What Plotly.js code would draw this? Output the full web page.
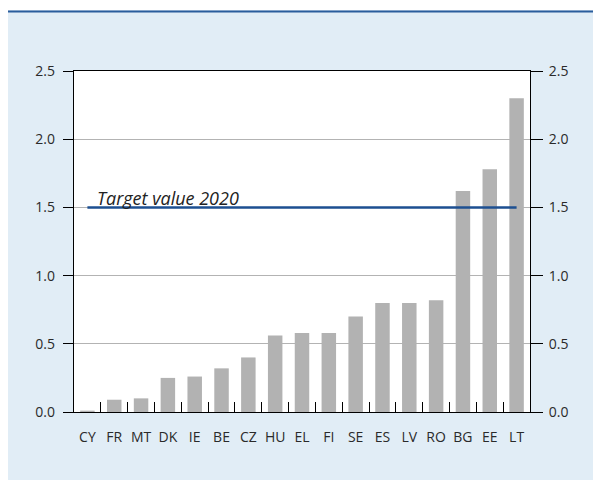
<!DOCTYPE html>
<html>
<head>
<meta charset="utf-8">
<script src="https://cdn.plot.ly/plotly-3.0.1.min.js"></script>
<style>html,body{margin:0;padding:0;background:#fff;}#chart{width:593px;height:480px;}</style>
</head>
<body>
<div id="chart"></div>
<script>
const countries = ["CY","FR","MT","DK","IE","BE","CZ","HU","EL","FI","SE","ES","LV","RO","BG","EE","LT"];
const values = [0.01,0.09,0.10,0.25,0.26,0.32,0.40,0.56,0.58,0.58,0.70,0.80,0.80,0.82,1.62,1.78,2.30];
const targetValue = 1.5;
const targetLabel = "Target value 2020";
const yTicks = [0,0.5,1.0,1.5,2.0,2.5];
const yTickText = ["0.0","0.5","1.0","1.5","2.0","2.5"];

const W = 593, H = 480;
const L = 74, R = 530, T = 71, B = 412;
const px = v => (v - L) / (R - L);
const py = v => (B - v) / (B - T);

const font = {family: "Open Sans, Noto Sans, sans-serif", size: 14, color: "#2a2a2a"};

const traces = [
  {type: "bar", x: countries, y: values, marker: {color: "#b2b2b2"}, hoverinfo: "skip"},
  {type: "scatter", mode: "lines", x: [countries[0], countries[countries.length-1]], y: [targetValue, targetValue],
   line: {color: "#1d4f91", width: 2.5}, hoverinfo: "skip"},
  {type: "scatter", mode: "lines", x: [countries[0]], y: [0], yaxis: "y2", showlegend: false, hoverinfo: "skip", line:{width:0}}
];

const layout = {
  width: W, height: H,
  margin: {l: L, r: W - R, t: T, b: H - B, pad: 0},
  paper_bgcolor: "#e1edf6",
  plot_bgcolor: "#ffffff",
  showlegend: false,
  bargap: 0.46,
  font: font,
  xaxis: {
    type: "category", showgrid: false, showline: true, linecolor: "#000", linewidth: 1.2,
    mirror: true, ticks: "inside", tickson: "boundaries", ticklen: 10, tickcolor: "#000",
    tickfont: font, tickangle: 0, ticklabelstandoff: 12, fixedrange: true, zeroline: false
  },
  yaxis: {
    range: [0, 2.5], tickvals: yTicks, ticktext: yTickText, showgrid: true, gridcolor: "#b3b3b3", gridwidth: 1,
    showline: true, linecolor: "#000", linewidth: 1.2, mirror: true, ticks: "outside", ticklen: 10,
    tickcolor: "#000", tickfont: font, ticklabelstandoff: 5, zeroline: false, fixedrange: true
  },
  yaxis2: {
    range: [0, 2.5], tickvals: yTicks, ticktext: yTickText, overlaying: "y", side: "right",
    showgrid: false, showline: false, ticks: "outside", ticklen: 12, tickcolor: "#000",
    tickfont: font, ticklabelstandoff: 3, zeroline: false, fixedrange: true
  },
  annotations: [{
    xref: "paper", yref: "y", x: px(95), y: targetValue, xanchor: "left", yanchor: "bottom",
    text: "<i>" + targetLabel + "</i>", showarrow: false, font: {family: font.family, size: 18, color: "#222"}, yshift: -5
  }],
  shapes: [
    {type: "rect", xref: "paper", yref: "paper", x0: px(0), x1: px(W), y0: py(10), y1: py(-1), fillcolor: "#fff", line: {width: 0}},
    {type: "rect", xref: "paper", yref: "paper", x0: px(-1), x1: px(8), y0: py(H+1), y1: py(-1), fillcolor: "#fff", line: {width: 0}},
    {type: "line", xref: "paper", yref: "paper", x0: px(8), x1: px(W+2), y0: py(11.5), y1: py(11.5), line: {color: "#2a5d9c", width: 2}}
  ]
};

Plotly.newPlot("chart", traces, layout, {displayModeBar: false, staticPlot: true});
</script>
</body>
</html>
